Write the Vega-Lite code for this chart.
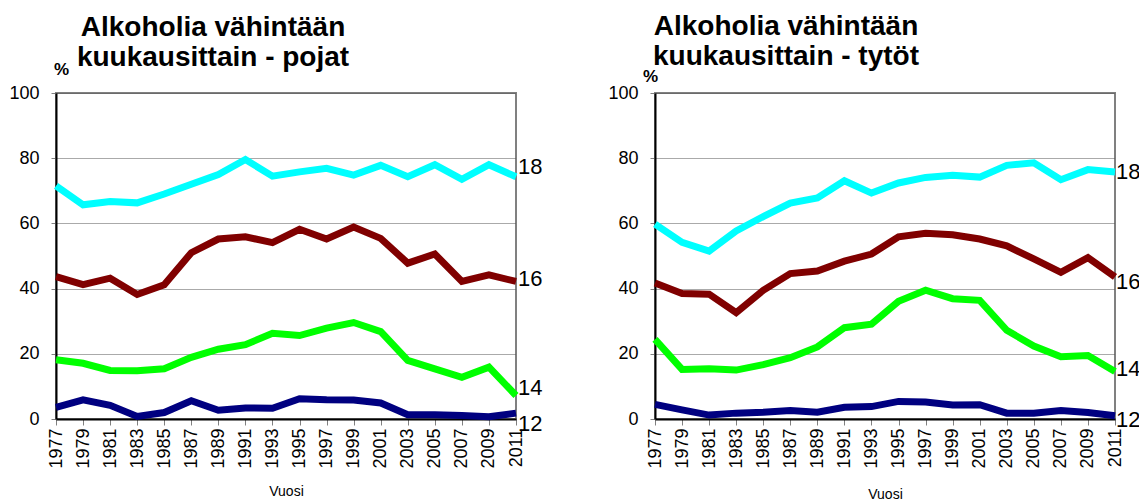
{
  "$schema": "https://vega.github.io/schema/vega-lite/v6.json",
  "padding": {"left": 7, "top": 12, "right": 0, "bottom": 0},
  "background": "white",
  "spacing": 62,
  "datasets": {
    "pojat": [
      {"year": 1977, "age": "18", "value": 71.5}, {"year": 1979, "age": "18", "value": 65.7}, {"year": 1981, "age": "18", "value": 66.7}, {"year": 1983, "age": "18", "value": 66.3}, {"year": 1985, "age": "18", "value": 69.0}, {"year": 1987, "age": "18", "value": 72.0}, {"year": 1989, "age": "18", "value": 75.0}, {"year": 1991, "age": "18", "value": 79.6}, {"year": 1993, "age": "18", "value": 74.5}, {"year": 1995, "age": "18", "value": 75.8}, {"year": 1997, "age": "18", "value": 76.9}, {"year": 1999, "age": "18", "value": 74.8}, {"year": 2001, "age": "18", "value": 77.8}, {"year": 2003, "age": "18", "value": 74.3}, {"year": 2005, "age": "18", "value": 78.0}, {"year": 2007, "age": "18", "value": 73.5}, {"year": 2009, "age": "18", "value": 78.0}, {"year": 2011, "age": "18", "value": 74.3},
      {"year": 1977, "age": "16", "value": 43.7}, {"year": 1979, "age": "16", "value": 41.2}, {"year": 1981, "age": "16", "value": 43.2}, {"year": 1983, "age": "16", "value": 38.2}, {"year": 1985, "age": "16", "value": 41.2}, {"year": 1987, "age": "16", "value": 51.0}, {"year": 1989, "age": "16", "value": 55.2}, {"year": 1991, "age": "16", "value": 55.9}, {"year": 1993, "age": "16", "value": 54.1}, {"year": 1995, "age": "16", "value": 58.2}, {"year": 1997, "age": "16", "value": 55.2}, {"year": 1999, "age": "16", "value": 58.9}, {"year": 2001, "age": "16", "value": 55.4}, {"year": 2003, "age": "16", "value": 47.8}, {"year": 2005, "age": "16", "value": 50.6}, {"year": 2007, "age": "16", "value": 42.2}, {"year": 2009, "age": "16", "value": 44.2}, {"year": 2011, "age": "16", "value": 42.2},
      {"year": 1977, "age": "14", "value": 18.2}, {"year": 1979, "age": "14", "value": 17.1}, {"year": 1981, "age": "14", "value": 14.9}, {"year": 1983, "age": "14", "value": 14.8}, {"year": 1985, "age": "14", "value": 15.4}, {"year": 1987, "age": "14", "value": 18.9}, {"year": 1989, "age": "14", "value": 21.4}, {"year": 1991, "age": "14", "value": 22.8}, {"year": 1993, "age": "14", "value": 26.3}, {"year": 1995, "age": "14", "value": 25.6}, {"year": 1997, "age": "14", "value": 27.9}, {"year": 1999, "age": "14", "value": 29.6}, {"year": 2001, "age": "14", "value": 26.8}, {"year": 2003, "age": "14", "value": 18.0}, {"year": 2005, "age": "14", "value": 15.4}, {"year": 2007, "age": "14", "value": 12.8}, {"year": 2009, "age": "14", "value": 15.9}, {"year": 2011, "age": "14", "value": 7.2},
      {"year": 1977, "age": "12", "value": 3.6}, {"year": 1979, "age": "12", "value": 5.9}, {"year": 1981, "age": "12", "value": 4.2}, {"year": 1983, "age": "12", "value": 0.8}, {"year": 1985, "age": "12", "value": 2.0}, {"year": 1987, "age": "12", "value": 5.6}, {"year": 1989, "age": "12", "value": 2.7}, {"year": 1991, "age": "12", "value": 3.4}, {"year": 1993, "age": "12", "value": 3.3}, {"year": 1995, "age": "12", "value": 6.2}, {"year": 1997, "age": "12", "value": 5.9}, {"year": 1999, "age": "12", "value": 5.8}, {"year": 2001, "age": "12", "value": 4.9}, {"year": 2003, "age": "12", "value": 1.3}, {"year": 2005, "age": "12", "value": 1.3}, {"year": 2007, "age": "12", "value": 1.1}, {"year": 2009, "age": "12", "value": 0.7}, {"year": 2011, "age": "12", "value": 1.8}
    ],
    "tytot": [
      {"year": 1977, "age": "18", "value": 59.8}, {"year": 1979, "age": "18", "value": 54.2}, {"year": 1981, "age": "18", "value": 51.5}, {"year": 1983, "age": "18", "value": 57.7}, {"year": 1985, "age": "18", "value": 62.1}, {"year": 1987, "age": "18", "value": 66.2}, {"year": 1989, "age": "18", "value": 67.8}, {"year": 1991, "age": "18", "value": 73.1}, {"year": 1993, "age": "18", "value": 69.3}, {"year": 1995, "age": "18", "value": 72.4}, {"year": 1997, "age": "18", "value": 74.1}, {"year": 1999, "age": "18", "value": 74.8}, {"year": 2001, "age": "18", "value": 74.2}, {"year": 2003, "age": "18", "value": 77.8}, {"year": 2005, "age": "18", "value": 78.6}, {"year": 2007, "age": "18", "value": 73.4}, {"year": 2009, "age": "18", "value": 76.5}, {"year": 2011, "age": "18", "value": 75.8},
      {"year": 1977, "age": "16", "value": 41.7}, {"year": 1979, "age": "16", "value": 38.5}, {"year": 1981, "age": "16", "value": 38.3}, {"year": 1983, "age": "16", "value": 32.6}, {"year": 1985, "age": "16", "value": 39.5}, {"year": 1987, "age": "16", "value": 44.6}, {"year": 1989, "age": "16", "value": 45.4}, {"year": 1991, "age": "16", "value": 48.4}, {"year": 1993, "age": "16", "value": 50.6}, {"year": 1995, "age": "16", "value": 55.9}, {"year": 1997, "age": "16", "value": 57.0}, {"year": 1999, "age": "16", "value": 56.5}, {"year": 2001, "age": "16", "value": 55.2}, {"year": 2003, "age": "16", "value": 53.1}, {"year": 2005, "age": "16", "value": 49.1}, {"year": 2007, "age": "16", "value": 45.0}, {"year": 2009, "age": "16", "value": 49.5}, {"year": 2011, "age": "16", "value": 43.6},
      {"year": 1977, "age": "14", "value": 24.4}, {"year": 1979, "age": "14", "value": 15.2}, {"year": 1981, "age": "14", "value": 15.4}, {"year": 1983, "age": "14", "value": 15.0}, {"year": 1985, "age": "14", "value": 16.7}, {"year": 1987, "age": "14", "value": 18.8}, {"year": 1989, "age": "14", "value": 22.1}, {"year": 1991, "age": "14", "value": 28.0}, {"year": 1993, "age": "14", "value": 29.1}, {"year": 1995, "age": "14", "value": 36.1}, {"year": 1997, "age": "14", "value": 39.5}, {"year": 1999, "age": "14", "value": 36.9}, {"year": 2001, "age": "14", "value": 36.4}, {"year": 2003, "age": "14", "value": 27.2}, {"year": 2005, "age": "14", "value": 22.4}, {"year": 2007, "age": "14", "value": 19.1}, {"year": 2009, "age": "14", "value": 19.5}, {"year": 2011, "age": "14", "value": 14.6},
      {"year": 1977, "age": "12", "value": 4.5}, {"year": 1979, "age": "12", "value": 2.8}, {"year": 1981, "age": "12", "value": 1.2}, {"year": 1983, "age": "12", "value": 1.8}, {"year": 1985, "age": "12", "value": 2.1}, {"year": 1987, "age": "12", "value": 2.6}, {"year": 1989, "age": "12", "value": 2.1}, {"year": 1991, "age": "12", "value": 3.6}, {"year": 1993, "age": "12", "value": 3.8}, {"year": 1995, "age": "12", "value": 5.4}, {"year": 1997, "age": "12", "value": 5.2}, {"year": 1999, "age": "12", "value": 4.3}, {"year": 2001, "age": "12", "value": 4.4}, {"year": 2003, "age": "12", "value": 1.8}, {"year": 2005, "age": "12", "value": 1.8}, {"year": 2007, "age": "12", "value": 2.6}, {"year": 2009, "age": "12", "value": 2.0}, {"year": 2011, "age": "12", "value": 1.0}
    ],
    "labels_pojat": [
      {"year": 2011, "age": "18", "value": 77.2}, {"year": 2011, "age": "16", "value": 42.9}, {"year": 2011, "age": "14", "value": 9.4}, {"year": 2011, "age": "12", "value": -1.5}
    ],
    "labels_tytot": [
      {"year": 2011, "age": "18", "value": 75.8}, {"year": 2011, "age": "16", "value": 41.9}, {"year": 2011, "age": "14", "value": 15.2}, {"year": 2011, "age": "12", "value": -0.3}
    ]
  },
  "config": {
    "font": "Liberation Sans",
    "view": {"stroke": "#808080", "strokeWidth": 2},
    "axis": {
      "labelFont": "Liberation Sans",
      "titleFont": "Liberation Sans",
      "labelColor": "black",
      "titleColor": "black",
      "domainColor": "black",
      "domainWidth": 2,
      "tickColor": "#808080",
      "gridColor": "#555555",
      "gridDash": [1, 1],
      "gridWidth": 1,
      "labelOverlap": false
    },
    "title": {"font": "Liberation Sans", "fontSize": 28, "fontWeight": "bold", "color": "black", "lineHeight": 30, "frame": "group"}
  },
  "hconcat": [
    {
      "width": 460,
      "height": 326,
      "title": {"text": ["Alkoholia vähintään", "kuukausittain - pojat"], "anchor": "start", "align": "center", "dx": 157, "offset": -12},
      "layer": [
        {
          "data": {"name": "pojat"},
          "mark": {"type": "line", "strokeWidth": 7, "strokeJoin": "miter"},
          "encoding": {
            "x": {"field": "year", "type": "ordinal", "scale": {"type": "point", "padding": 0},
              "axis": {"labelAngle": -90, "labelOverlap": false, "labelFontSize": 18, "tickSize": 6, "labelPadding": 3, "grid": false, "title": "Vuosi", "titleFontSize": 14, "titleFontWeight": "normal", "titlePadding": 16}},
            "y": {"field": "value", "type": "quantitative", "scale": {"domain": [0, 100], "nice": false},
              "axis": {"values": [0, 20, 40, 60, 80, 100], "labelOverlap": false, "labelFontSize": 18, "tickSize": 5, "labelPadding": 12, "grid": true, "title": "%", "titleAngle": 0, "titleX": 5, "titleY": -15, "titleAlign": "center", "titleFontSize": 17, "titleFontWeight": "bold"}},
            "color": {"field": "age", "type": "nominal", "scale": {"domain": ["18", "16", "14", "12"], "range": ["#00FFFF", "#800000", "#00FF00", "#000080"]}, "legend": null},
            "detail": {"field": "age"}
          }
        },
        {
          "data": {"name": "labels_pojat"},
          "mark": {"type": "text", "align": "left", "baseline": "middle", "dx": 2, "fontSize": 22, "color": "black"},
          "encoding": {
            "x": {"field": "year", "type": "ordinal"},
            "y": {"field": "value", "type": "quantitative"},
            "text": {"field": "age"}
          }
        }
      ]
    },
    {
      "width": 460,
      "height": 326,
      "title": {"text": ["Alkoholia vähintään", "kuukausittain  - tytöt"], "anchor": "start", "align": "center", "dx": 131, "offset": -4},
      "layer": [
        {
          "data": {"name": "tytot"},
          "mark": {"type": "line", "strokeWidth": 7, "strokeJoin": "miter"},
          "encoding": {
            "x": {"field": "year", "type": "ordinal", "scale": {"type": "point", "padding": 0},
              "axis": {"labelAngle": -90, "labelOverlap": false, "labelFontSize": 18, "tickSize": 6, "labelPadding": 3, "grid": false, "title": "Vuosi", "titleFontSize": 14, "titleFontWeight": "normal", "titlePadding": 19}},
            "y": {"field": "value", "type": "quantitative", "scale": {"domain": [0, 100], "nice": false},
              "axis": {"values": [0, 20, 40, 60, 80, 100], "labelOverlap": false, "labelFontSize": 18, "tickSize": 5, "labelPadding": 12, "grid": true, "title": "%", "titleAngle": 0, "titleX": -5, "titleY": -8, "titleAlign": "center", "titleFontSize": 17, "titleFontWeight": "bold"}},
            "color": {"field": "age", "type": "nominal", "scale": {"domain": ["18", "16", "14", "12"], "range": ["#00FFFF", "#800000", "#00FF00", "#000080"]}, "legend": null},
            "detail": {"field": "age"}
          }
        },
        {
          "data": {"name": "labels_tytot"},
          "mark": {"type": "text", "align": "left", "baseline": "middle", "dx": 1, "fontSize": 22, "color": "black"},
          "encoding": {
            "x": {"field": "year", "type": "ordinal"},
            "y": {"field": "value", "type": "quantitative"},
            "text": {"field": "age"}
          }
        }
      ]
    }
  ]
}
